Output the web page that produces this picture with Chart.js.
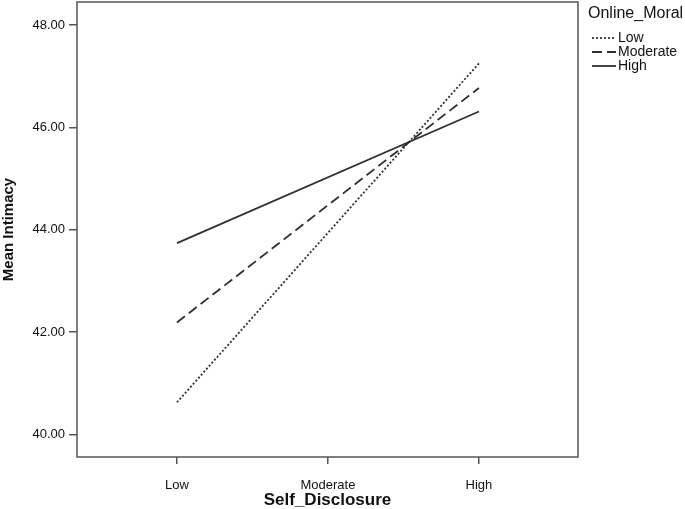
<!DOCTYPE html>
<html>
<head>
<meta charset="utf-8">
<script src="https://cdn.jsdelivr.net/npm/chart.js@4/dist/chart.umd.min.js"></script>
<style>
html,body{margin:0;padding:0;background:#fff;}
#wrap{width:685px;height:509px;position:relative;}
</style>
</head>
<body>
<div id="wrap"><canvas id="c" width="685" height="509"></canvas></div>
<script>
const categories = ['Low', 'Moderate', 'High'];
const seriesNames = ['Low', 'Moderate', 'High'];
const lowValues = [40.63, null, 47.25];
const moderateValues = [42.19, null, 46.77];
const highValues = [43.74, null, 46.31];
const yTicks = [40, 42, 44, 46, 48];
const legendTitle = 'Online_Moral';
const xTitle = 'Self_Disclosure';
const yTitle = 'Mean Intimacy';

const lineColor = '#303030';
const dashes = [[2, 2], [10, 5], []];
const allValues = [lowValues, moderateValues, highValues];

const datasets = allValues.map((vals, k) => ({
  label: seriesNames[k],
  data: vals.map((v, i) => ({ x: i, y: v })),
  borderColor: lineColor,
  borderWidth: 1.8,
  borderDash: dashes[k],
  pointRadius: 0,
  fill: false,
  spanGaps: true,
  tension: 0
}));

const frame = {
  id: 'frame',
  afterDraw(chart) {
    const { ctx, chartArea: a } = chart;
    ctx.save();
    ctx.strokeStyle = '#555';
    ctx.lineWidth = 1.5;
    ctx.strokeRect(a.left, a.top, a.right - a.left, a.bottom - a.top);
    // legend
    ctx.fillStyle = '#111';
    ctx.textBaseline = 'middle';
    ctx.textAlign = 'left';
    ctx.font = '16px "Liberation Sans", Arial, sans-serif';
    ctx.fillText(legendTitle, 588, 14);
    ctx.font = '14px "Liberation Sans", Arial, sans-serif';
    const ys = [38, 52, 66];
    seriesNames.forEach((n, k) => {
      ctx.beginPath();
      ctx.setLineDash(dashes[k]);
      ctx.strokeStyle = lineColor;
      ctx.lineWidth = 1.8;
      ctx.moveTo(592, ys[k]);
      ctx.lineTo(616, ys[k]);
      ctx.stroke();
      ctx.setLineDash([]);
      ctx.fillText(n, 618, ys[k]);
    });
    ctx.restore();
  }
};

new Chart(document.getElementById('c'), {
  type: 'line',
  data: { datasets },
  options: {
    responsive: false,
    animation: false,
    layout: { padding: { top: 2, right: 107, left: 0, bottom: 0 } },
    plugins: { legend: { display: false }, tooltip: { enabled: false } },
    scales: {
      x: {
        type: 'linear',
        min: -0.662,
        max: 2.656,
        afterBuildTicks: (s) => { s.ticks = categories.map((c, i) => ({ value: i })); },
        afterFit: (s) => { s.height = 52; s.paddingLeft = 0; s.paddingRight = 0; },
        ticks: {
          callback: (v) => categories[v] ?? '',
          color: '#111',
          font: { family: '"Liberation Sans", Arial, sans-serif', size: 13 },
          padding: 14,
          maxRotation: 0
        },
        grid: { drawOnChartArea: false, drawTicks: true, tickLength: 7, color: '#555', lineWidth: 1.5 },
        border: { display: false },
        title: {
          display: true,
          text: xTitle,
          color: '#111',
          font: { family: '"Liberation Sans", Arial, sans-serif', size: 17, weight: 'bold' },
          padding: { top: 0, bottom: -2 }
        }
      },
      y: {
        type: 'linear',
        min: 39.561,
        max: 48.449,
        afterBuildTicks: (s) => { s.ticks = yTicks.map(v => ({ value: v })); },
        afterFit: (s) => { s.width = 77; s.paddingTop = 0; s.paddingBottom = 0; },
        ticks: {
          callback: (v) => Number(v).toFixed(2),
          color: '#111',
          font: { family: '"Liberation Sans", Arial, sans-serif', size: 13 },
          padding: 4
        },
        grid: { drawOnChartArea: false, drawTicks: true, tickLength: 8, color: '#555', lineWidth: 1.5 },
        border: { display: false },
        title: {
          display: true,
          text: yTitle,
          color: '#111',
          font: { family: '"Liberation Sans", Arial, sans-serif', size: 15, weight: 'bold' },
          padding: { top: 0, bottom: 0 }
        }
      }
    }
  },
  plugins: [frame]
});
</script>
</body>
</html>
